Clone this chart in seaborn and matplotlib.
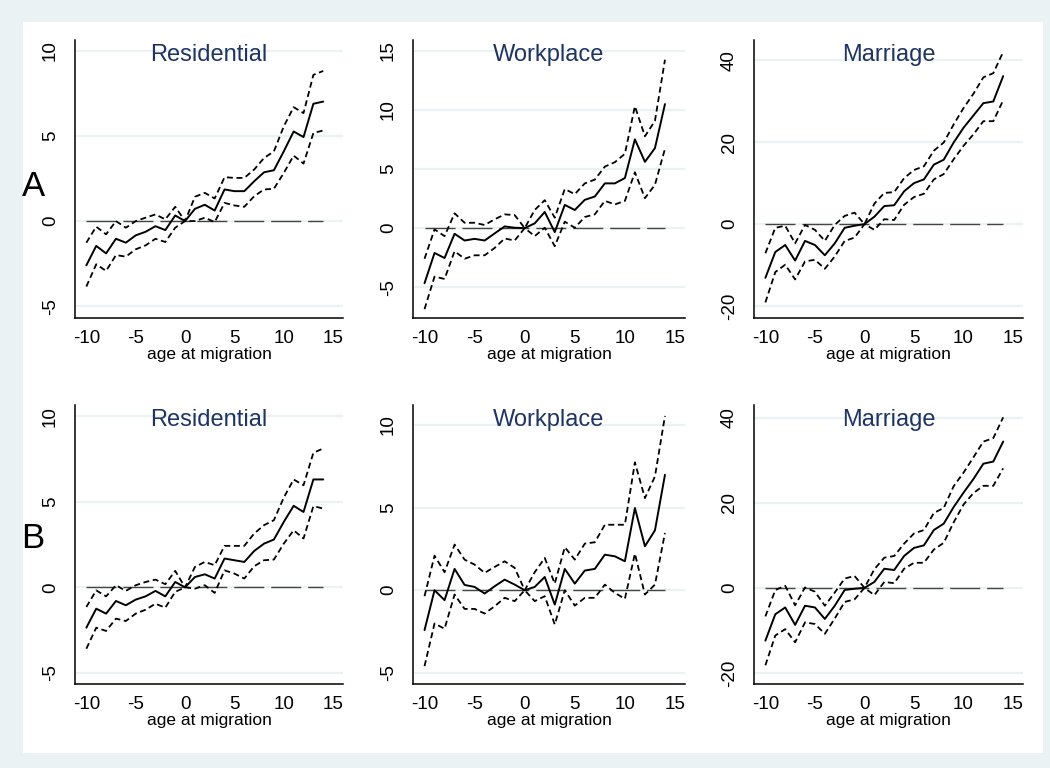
import matplotlib
matplotlib.use("Agg")
import matplotlib.pyplot as plt
from matplotlib.patches import Rectangle
import seaborn as sns

# age at migration (x axis, same for every panel)
ages = list(range(-10, 15))

# Row A
res_a_est = [-2.6, -1.46, -1.9, -1.04, -1.27, -0.84, -0.63, -0.3, -0.53, 0.33, 0, 0.72, 0.96, 0.62,
             1.86, 1.76, 1.76, 2.34, 2.87, 2.99, 4.1, 5.27, 4.94, 6.9, 7.03]
res_a_hi = [-1.27, -0.33, -0.78, 0, -0.39, 0, 0.2, 0.39, 0.1, 0.84, 0, 1.43, 1.66, 1.33,
            2.58, 2.54, 2.54, 3.03, 3.71, 4.1, 5.57, 6.7, 6.35, 8.6, 8.83]
res_a_lo = [-3.85, -2.54, -2.93, -2.0, -2.09, -1.66, -1.43, -1.04, -1.23, -0.39, 0, 0, 0.2, -0.06,
            1.07, 0.92, 0.84, 1.46, 1.86, 1.9, 2.83, 3.85, 3.38, 5.18, 5.33]

work_a_est = [-4.66, -2.1, -2.53, -0.48, -1.05, -0.91, -1.05, -0.45, 0.14, 0.03, 0, 0.4, 1.36, -0.34,
              1.96, 1.53, 2.39, 2.67, 3.78, 3.78, 4.23, 7.5, 5.6, 6.76, 10.48]
work_a_hi = [-2.59, -0.11, -0.68, 1.25, 0.45, 0.45, 0.26, 0.74, 1.16, 1.1, 0, 1.53, 2.36, 0.88,
             3.3, 2.87, 3.78, 4.1, 5.2, 5.57, 6.28, 10.3, 7.76, 9.06, 14.23]
work_a_lo = [-6.85, -4.1, -4.3, -1.96, -2.59, -2.3, -2.3, -1.68, -0.88, -1.05, 0, -0.68, 0.03, -1.53,
             0.54, 0.03, 0.94, 1.16, 2.3, 2.0, 2.3, 4.72, 2.53, 3.66, 6.7]

mar_a_est = [-13.1, -6.8, -5.1, -8.9, -4.1, -5.1, -7.6, -4.7, -0.9, -0.4, 0, 1.8, 4.4, 4.6,
             8.0, 10.0, 10.9, 14.5, 15.7, 19.9, 23.5, 26.5, 29.5, 29.9, 36.1]
mar_a_hi = [-7.1, -0.9, -0.4, -4.7, -0.2, -1.4, -4.1, -0.2, 2.0, 2.8, 0, 5.0, 7.6, 7.8,
            11.2, 13.2, 14.1, 17.9, 19.9, 24.3, 28.3, 31.8, 35.8, 36.8, 42.0]
mar_a_lo = [-19.1, -11.7, -9.9, -13.5, -9.1, -8.7, -10.9, -7.9, -4.1, -3.3, 0, -1.4, 1.2, 1.0,
            4.7, 6.6, 7.4, 10.9, 12.2, 15.8, 19.1, 21.9, 25.1, 25.1, 30.2]

# Row B
res_b_est = [-2.36, -1.25, -1.54, -0.8, -1.05, -0.72, -0.53, -0.21, -0.53, 0.31, 0, 0.6, 0.76, 0.51,
             1.68, 1.58, 1.48, 2.12, 2.55, 2.79, 3.82, 4.76, 4.4, 6.3, 6.3]
res_b_hi = [-1.15, -0.18, -0.53, 0.12, -0.21, 0.12, 0.31, 0.45, 0.18, 0.96, 0, 1.19, 1.48, 1.29,
            2.42, 2.42, 2.42, 3.14, 3.63, 3.92, 5.24, 6.3, 5.96, 7.86, 8.11]
res_b_lo = [-3.59, -2.36, -2.55, -1.83, -1.97, -1.54, -1.31, -0.96, -1.19, -0.27, 0, -0.08, 0.12, -0.33,
            0.99, 0.8, 0.51, 1.23, 1.58, 1.62, 2.55, 3.33, 2.85, 4.74, 4.6]

work_b_est = [-2.41, 0, -0.6, 1.29, 0.32, 0.2, -0.2, 0.24, 0.64, 0.34, 0, 0.2, 0.8, -0.87,
              1.29, 0.4, 1.19, 1.29, 2.15, 2.05, 1.75, 4.97, 2.66, 3.62, 6.98]
work_b_hi = [-0.36, 2.09, 1.09, 2.76, 1.85, 1.55, 1.05, 1.41, 1.75, 1.35, 0, 1.09, 1.95, 0.4,
             2.6, 1.85, 2.82, 2.9, 3.96, 3.96, 3.96, 7.73, 5.57, 6.88, 10.54]
work_b_lo = [-4.59, -2.01, -2.33, -0.26, -1.13, -1.13, -1.41, -0.97, -0.46, -0.66, 0, -0.66, -0.36, -2.07,
             0, -0.93, -0.46, -0.46, 0.34, -0.16, -0.52, 2.21, -0.26, 0.34, 3.46]

mar_b_est = [-12.4, -6.2, -4.6, -8.7, -4.2, -4.6, -7.3, -4.2, -0.5, -0.2, 0, 1.4, 4.5, 4.2,
             7.5, 9.4, 10.0, 13.6, 15.1, 19.0, 22.4, 25.6, 29.2, 29.7, 34.4]
mar_b_hi = [-6.7, -0.5, 0.5, -4.1, 0.1, -0.9, -4.2, -1.1, 2.2, 2.8, 0, 4.4, 7.1, 7.5,
            10.4, 12.8, 13.6, 17.6, 18.8, 23.9, 27.1, 30.7, 34.4, 35.2, 40.1]
mar_b_lo = [-18.2, -11.2, -9.7, -12.8, -8.1, -8.5, -10.8, -7.2, -3.3, -2.7, 0, -1.7, 1.4, 1.1,
            4.5, 5.9, 5.9, 9.0, 10.6, 15.4, 19.6, 22.3, 24.0, 24.0, 28.1]

zero = [0] * len(ages)

titles = ["Residential", "Workplace", "Marriage"]
row_labels = ["A", "B"]
x_ticks = [-10, -5, 0, 5, 10, 15]

panels = [
    [(res_a_est, res_a_hi, res_a_lo, [-5, 0, 5, 10], (-5.7, 10.65)),
     (work_a_est, work_a_hi, work_a_lo, [-5, 0, 5, 10, 15], (-7.6, 15.9)),
     (mar_a_est, mar_a_hi, mar_a_lo, [-20, 0, 20, 40], (-22.9, 44.9))],
    [(res_b_est, res_b_hi, res_b_lo, [-5, 0, 5, 10], (-5.65, 10.65)),
     (work_b_est, work_b_hi, work_b_lo, [-5, 0, 5, 10], (-5.67, 11.2)),
     (mar_b_est, mar_b_hi, mar_b_lo, [-20, 0, 20, 40], (-22.6, 43.0))],
]

sns.set_theme(style="white")
plt.rcParams["font.family"] = ["Liberation Sans", "DejaVu Sans"]
plt.rcParams["lines.scale_dashes"] = False

W, H = 1050, 768
fig = plt.figure(figsize=(W / 100, H / 100), dpi=100)
fig.patch.set_facecolor("#EAF2F3")
fig.add_artist(Rectangle((23 / W, 1 - 753 / H), 1020 / W, 731 / H,
                         transform=fig.transFigure, facecolor="white",
                         edgecolor="none", zorder=0))

lefts = [75, 413, 754]
rights = [343, 685, 1023]
tops = [40, 405]
bottoms = [318, 684]
grid_col = "#EAF2F3"

for r in range(2):
    for c in range(3):
        est, hi, lo, yt, yl = panels[r][c]
        ax = fig.add_axes([lefts[c] / W, 1 - bottoms[r] / H,
                           (rights[c] - lefts[c]) / W, (bottoms[r] - tops[r]) / H])
        ax.set_facecolor("none")
        for y in yt:
            ax.axhline(y, color=grid_col, lw=1.6, zorder=0)
        sns.lineplot(x=ages, y=zero, ax=ax, color="#444444", lw=1.0,
                     linestyle=(0, (21.6, 5.0)), zorder=2)
        sns.lineplot(x=ages, y=hi, ax=ax, color="black", lw=1.3,
                     linestyle=(0, (4.3, 2.6)), zorder=3)
        sns.lineplot(x=ages, y=lo, ax=ax, color="black", lw=1.3,
                     linestyle=(0, (4.3, 2.6)), zorder=3)
        sns.lineplot(x=ages, y=est, ax=ax, color="black", lw=1.4, zorder=4)

        ax.set_xlim(-11.15, 16.0)
        ax.set_ylim(*yl)
        ax.set_xticks(x_ticks)
        ax.set_xticklabels([str(t) for t in x_ticks], fontsize=13.5)
        ax.set_yticks(yt)
        ax.set_yticklabels([str(t) for t in yt], fontsize=13.5, rotation=90, va="center")
        ax.tick_params(axis="both", direction="out", length=3.6, width=1.0,
                       color="black", labelcolor="black")
        ax.tick_params(axis="x", pad=5)
        ax.tick_params(axis="y", pad=8)
        for s in ["top", "right"]:
            ax.spines[s].set_visible(False)
        for s in ["left", "bottom"]:
            ax.spines[s].set_color("black")
            ax.spines[s].set_linewidth(1.1)
        ax.set_xlabel("age at migration", fontsize=12.5, color="black", labelpad=0)
        ax.set_ylabel("")
        ax.text(0.5, 0.945, titles[c], transform=ax.transAxes, ha="center", va="center",
                fontsize=17, color="#1F3461")

fig.text(33 / W, 1 - 187 / H, row_labels[0], ha="center", va="center", fontsize=25, color="black")
fig.text(33 / W, 1 - 538 / H, row_labels[1], ha="center", va="center", fontsize=25, color="black")

fig.savefig("out.png", dpi=100, facecolor=fig.get_facecolor())
